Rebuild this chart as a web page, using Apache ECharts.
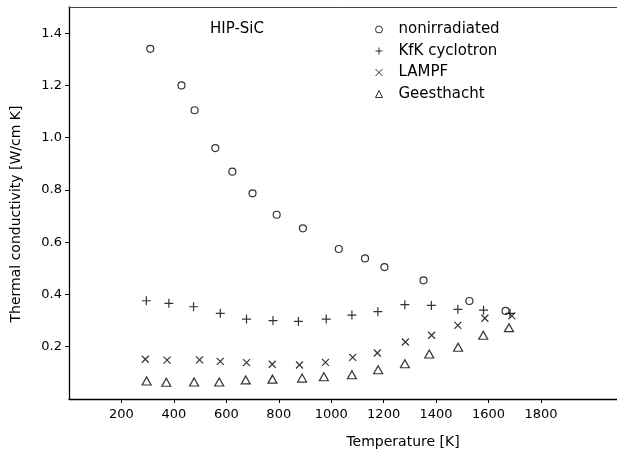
<!DOCTYPE html>
<html>
<head>
<meta charset="utf-8">
<title>HIP-SiC thermal conductivity</title>
<script src="https://cdn.jsdelivr.net/npm/echarts@6/dist/echarts.min.js"></script>
<style>
  html, body { margin: 0; padding: 0; background: #fff; }
  #chart { width: 617px; height: 453px; }
</style>
</head>
<body>
<div id="chart"></div>
<script>
// Temperature (K) and thermal conductivity (W/cm K) per irradiation condition
const tempNonirradiated = [310, 429, 479, 558, 623, 700, 792, 892, 1029, 1129, 1203, 1352, 1527, 1665];
const kNonirradiated    = [1.34, 1.20, 1.105, 0.96, 0.87, 0.787, 0.705, 0.653, 0.574, 0.538, 0.505, 0.454, 0.375, 0.337];

const tempKfk = [295, 381, 475, 577, 677, 778, 875, 981, 1079, 1178, 1281, 1382, 1483, 1581, 1682];
const kKfk    = [0.376, 0.366, 0.353, 0.328, 0.306, 0.300, 0.297, 0.306, 0.321, 0.334, 0.361, 0.358, 0.343, 0.340, 0.328];

const tempLampf = [291, 374, 498, 577, 677, 775, 879, 978, 1082, 1176, 1283, 1383, 1483, 1586, 1689];
const kLampf    = [0.152, 0.149, 0.150, 0.144, 0.139, 0.133, 0.130, 0.140, 0.159, 0.176, 0.218, 0.244, 0.282, 0.309, 0.318];

const tempGeesthacht = [296, 371, 477, 573, 674, 776, 889, 972, 1079, 1179, 1281, 1374, 1484, 1580, 1678];
const kGeesthacht    = [0.069, 0.064, 0.065, 0.065, 0.073, 0.076, 0.080, 0.085, 0.093, 0.112, 0.135, 0.172, 0.198, 0.244, 0.273];

const seriesNames = ['nonirradiated', 'KfK cyclotron', 'LAMPF', 'Geesthacht'];
const xTickValues = [200, 400, 600, 800, 1000, 1200, 1400, 1600, 1800];
const yTickValues = [0.2, 0.4, 0.6, 0.8, 1.0, 1.2, 1.4];

const FONT = 'DejaVu Sans';
const INK = '#000';

function pairs(xs, ys) { return xs.map((x, i) => [x, ys[i]]); }

const hollow = { color: 'none', borderColor: INK, borderWidth: 1.2 };

const chart = echarts.init(document.getElementById('chart'), null, { renderer: 'canvas' });

chart.setOption({
  animation: false,
  backgroundColor: '#fff',
  textStyle: { fontFamily: FONT, color: INK },
  grid: { left: 69, right: 0, top: 7, bottom: 54, containLabel: false },
  legend: {
    orient: 'vertical',
    left: 373,
    top: 22,
    padding: 0,
    itemGap: 6.5,
    itemWidth: 7,
    itemHeight: 7,
    data: seriesNames,
    itemStyle: { color: 'none', borderColor: INK, borderWidth: 1 },
    textStyle: { fontFamily: FONT, fontSize: 15, color: INK, padding: [0, 0, 0, 11] }
  },
  xAxis: [{
    type: 'value',
    min: 0,
    max: 2090,
    interval: 200,
    splitLine: { show: false },
    axisLine: { show: true, onZero: false, lineStyle: { color: INK, width: 1.3 } },
    axisTick: { show: true, inside: false, length: 4, customValues: xTickValues, lineStyle: { color: INK, width: 1 } },
    axisLabel: {
      customValues: xTickValues, margin: 9, fontFamily: FONT, fontSize: 13, color: INK,
      formatter: v => String(v)
    }
  }, {
    type: 'value',
    position: 'top',
    min: 0,
    max: 2090,
    splitLine: { show: false },
    axisLine: { show: true, onZero: false, lineStyle: { color: '#444', width: 1 } },
    axisTick: { show: false },
    axisLabel: { show: false }
  }],
  yAxis: {
    type: 'value',
    min: 0,
    max: 1.5,
    interval: 0.1,
    splitLine: { show: false },
    axisLine: { show: true, onZero: false, lineStyle: { color: INK, width: 1.3 } },
    axisTick: { show: true, inside: false, length: 4, customValues: yTickValues, lineStyle: { color: INK, width: 1 } },
    axisLabel: {
      customValues: yTickValues, margin: 7, fontFamily: FONT, fontSize: 13, color: INK,
      formatter: v => v.toFixed(1)
    }
  },
  graphic: [
    {
      type: 'text', left: 210, top: 22,
      style: { text: 'HIP-SiC', font: '15px "DejaVu Sans"', fill: INK }
    },
    {
      type: 'text', x: 403, y: 442,
      style: { text: 'Temperature [K]', font: '14px "DejaVu Sans"', fill: INK, align: 'center', verticalAlign: 'middle' }
    },
    {
      type: 'text', x: 16, y: 214, rotation: Math.PI / 2,
      style: { text: 'Thermal conductivity [W/cm K]', font: '14px "DejaVu Sans"', fill: INK, align: 'center', verticalAlign: 'middle' }
    }
  ],
  series: [
    {
      name: seriesNames[0], type: 'scatter',
      symbol: 'circle', symbolSize: 7,
      itemStyle: hollow,
      data: pairs(tempNonirradiated, kNonirradiated)
    },
    {
      name: seriesNames[1], type: 'scatter',
      symbol: 'path://M5,0L5,10M0,5L10,5', symbolSize: 9,
      itemStyle: hollow,
      data: pairs(tempKfk, kKfk)
    },
    {
      name: seriesNames[2], type: 'scatter',
      symbol: 'path://M0,0L10,10M10,0L0,10', symbolSize: 7,
      itemStyle: hollow,
      data: pairs(tempLampf, kLampf)
    },
    {
      name: seriesNames[3], type: 'scatter',
      symbol: 'triangle', symbolSize: [9, 8],
      itemStyle: hollow,
      data: pairs(tempGeesthacht, kGeesthacht)
    }
  ]
});
</script>
</body>
</html>
